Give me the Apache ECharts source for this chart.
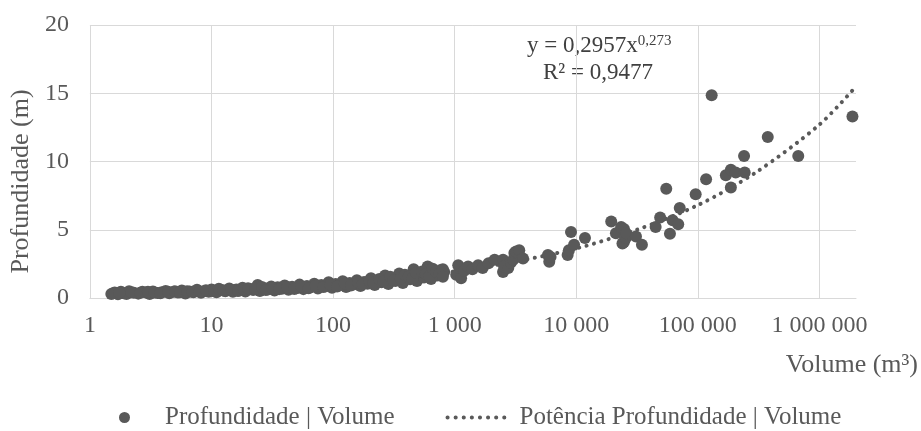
<!DOCTYPE html>
<html>
<head>
<meta charset="utf-8">
<script src="https://cdn.jsdelivr.net/npm/echarts@6/dist/echarts.min.js"></script>
<style>html,body{margin:0;padding:0;background:#fff;}#c{width:921px;height:431px;}</style>
</head>
<body>
<div id="c"></div>
<script>
// Observed points (volume m³, depth m)
const volume = [
  1.5,1.6,1.7,1.8,1.9,2.0,2.1,2.3,2.5,2.7,2.9,3.1,3.3,3.6,3.9,4.2,4.5,4.9,5.3,5.7,6.1,6.6,7.1,7.6,8.2,8.8,9.5,10,
  11,12,13,14,15,16,17,18,19,21,22,24,25,27,29,31,33,35,38,40,43,46,50,53,57,61,65,70,75,80,86,92,98,
  105,112,120,128,137,147,157,168,180,192,205,220,235,250,268,285,305,325,350,375,400,430,460,490,520,560,600,640,680,720,770,820,
  1.55,1.75,2.2,2.6,3.0,3.4,3.8,4.4,5.0,5.5,6.3,7.0,8.0,9.0,10.5,11.5,12.5,14.5,16.5,18.5,20,23,26,28,32,36,42,48,55,63,72,83,95,
  108,125,140,160,175,198,215,240,260,295,315,360,390,420,450,480,540,580,620,660,700,750,800,
  800,1030,1070,1130,1200,1290,1400,1560,1700,1900,2130,2500,2500,2550,2760,2900,3030,3100,3200,3400,3650,
  5850,6000,6150,8500,8700,9060,9600,11800,19400,21200,23400,24000,24700,24700,25600,25700,31000,34700,
  45000,49000,55000,59000,62000,69000,71000,96000,117000,130000,170000,187000,187000,205000,240000,243000,376000,670000,1870000
];
const depth = [
  0.30,0.40,0.28,0.45,0.35,0.30,0.50,0.38,0.32,0.45,0.40,0.30,0.48,0.36,0.42,0.52,0.35,0.45,0.40,0.55,0.33,0.48,0.42,0.60,0.38,0.52,0.46,0.62,
  0.42,0.58,0.50,0.70,0.45,0.62,0.55,0.75,0.48,0.66,0.58,0.95,0.52,0.72,0.62,0.85,0.55,0.78,0.68,0.92,0.60,0.82,0.72,0.98,0.65,0.88,0.78,1.05,0.70,0.95,0.85,1.15,0.75,
  1.02,0.92,1.22,0.80,1.10,0.98,1.30,0.88,1.18,1.05,1.45,0.95,1.30,1.15,1.65,1.02,1.40,1.25,1.80,1.10,1.55,1.38,2.10,1.25,1.70,1.50,2.30,1.40,1.85,1.65,2.05,1.90,
  0.35,0.38,0.42,0.38,0.45,0.40,0.35,0.45,0.50,0.42,0.50,0.46,0.48,0.56,0.50,0.68,0.55,0.60,0.52,0.65,0.72,0.68,0.80,0.58,0.70,0.65,0.78,0.66,0.85,0.72,0.90,0.80,0.98,
  0.85,1.05,0.92,1.15,1.00,1.25,1.10,1.40,1.22,1.55,1.30,1.45,1.70,1.60,1.45,1.85,1.95,1.75,1.60,2.15,1.95,1.80,2.10,
  1.55,1.70,2.40,1.45,2.00,2.30,2.10,2.40,2.20,2.55,2.80,2.80,1.90,2.30,2.20,2.60,2.80,3.30,3.40,3.50,2.90,
  3.15,2.65,3.00,3.15,3.50,4.84,3.90,4.40,5.60,4.75,5.20,4.00,4.10,5.05,4.40,4.75,4.50,3.90,
  5.20,5.90,8.00,4.70,5.70,5.40,6.60,7.60,8.70,14.85,9.00,9.40,8.10,9.20,10.40,9.20,11.80,10.40,13.30
];
// Trend line (power fit)
const trendVolume = [1.5,3,10,30,100,300,1000,3000,10000,30000,100000,300000,1000000,2000000];
const trendDepth  = [0.33,0.40,0.55,0.74,1.04,1.40,1.94,2.63,3.63,4.93,6.80,9.20,12.70,15.50];

const seriesNames = ['Profundidade | Volume', 'Potência Profundidade | Volume'];
const equationText = ['y = 0,2957x', '0,273', 'R² = 0,9477'];

const FONT = '"Liberation Serif","Times New Roman",serif';
const GREY = '#595959';

function spaced(v) {
  const n = Math.round(v);
  return String(n).replace(/\B(?=(\d{3})+(?!\d))/g, ' ');
}

const chart = echarts.init(document.getElementById('c'), null, {renderer: 'canvas'});
chart.setOption({
  animation: false,
  backgroundColor: '#fff',
  textStyle: {fontFamily: FONT},
  grid: {left: 88, top: 25, right: 65, bottom: 133, containLabel: false},
  xAxis: {
    type: 'log', logBase: 10, min: 1, max: 2000000,
    name: 'Volume (m³)', nameLocation: 'end', nameGap: 62,
    nameTextStyle: {fontFamily: FONT, fontSize: 26, color: GREY, align: 'right', verticalAlign: 'top', padding: [54, 0, 0, 0]},
    axisLine: {show: true, lineStyle: {color: '#d9d9d9', width: 1}},
    axisTick: {show: false},
    axisLabel: {fontFamily: FONT, fontSize: 24, color: GREY, margin: 16, showMaxLabel: false, formatter: spaced},
    splitLine: {show: true, showMaxLine: false, lineStyle: {color: '#d9d9d9', width: 1}}
  },
  yAxis: {
    type: 'value', min: 0, max: 20, interval: 5,
    name: 'Profundidade (m)', nameLocation: 'middle', nameGap: 51, nameRotate: 90,
    nameTextStyle: {fontFamily: FONT, fontSize: 26, color: GREY, padding: [0, 40, 0, 0]},
    axisLine: {show: false}, axisTick: {show: false},
    axisLabel: {fontFamily: FONT, fontSize: 24, color: GREY, margin: 21},
    splitLine: {show: true, lineStyle: {color: '#d9d9d9', width: 1}}
  },
  legend: {
    left: 114, top: 400, itemWidth: 63, itemHeight: 11, itemGap: 51,
    textStyle: {fontFamily: FONT, fontSize: 25, color: GREY, padding: [0, 0, 0, 4]},
    data: [
      {name: seriesNames[0], icon: 'circle'},
      {name: seriesNames[1], itemStyle: {opacity: 0}, lineStyle: {color: GREY, width: 4, type: [0.1, 8], cap: 'round'}}
    ]
  },
  graphic: [
    {type: 'text', left: 527, top: 34, style: {
      rich: {m: {fontFamily: FONT, fontSize: 23, fill: '#404040'}, s: {fontFamily: FONT, fontSize: 15, fill: '#404040', verticalAlign: 'top', padding: [0,0,8,0]}},
      text: '{m|' + equationText[0] + '}{s|' + equationText[1] + '}'
    }},
    {type: 'text', left: 543, top: 61, style: {fontFamily: FONT, fontSize: 23, fill: '#404040', text: equationText[2]}}
  ],
  series: [
    {
      name: seriesNames[1], type: 'line', smooth: 0.3, symbol: 'none', z: 1,
      data: trendVolume.map((v, i) => [v, trendDepth[i]]),
      lineStyle: {color: GREY, width: 4, type: [0.1, 7.5], cap: 'round'},
      itemStyle: {color: GREY}
    },
    {
      name: seriesNames[0], type: 'scatter', symbol: 'circle', symbolSize: 12, z: 2,
      data: volume.map((v, i) => [v, depth[i]]),
      itemStyle: {color: GREY, opacity: 1}
    }
  ]
});
</script>
</body>
</html>
